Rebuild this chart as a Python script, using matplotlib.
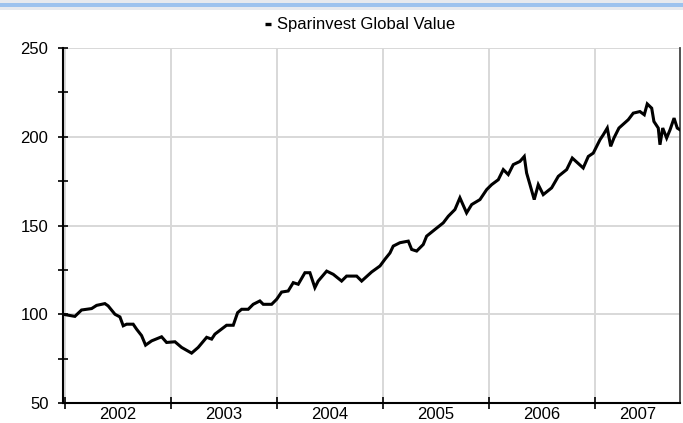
import matplotlib
matplotlib.use("Agg")
import matplotlib.pyplot as plt
from matplotlib.patches import Rectangle
from matplotlib.lines import Line2D

# Data (decimal years, index values)
years = [2001.985, 2002.097, 2002.160, 2002.255, 2002.302, 2002.380, 2002.411, 2002.475,
         2002.522, 2002.553, 2002.585, 2002.647, 2002.679, 2002.726, 2002.764, 2002.821,
         2002.915, 2002.962, 2003.041, 2003.104, 2003.198, 2003.260, 2003.340, 2003.387,
         2003.418, 2003.528, 2003.591, 2003.632, 2003.670, 2003.732, 2003.779, 2003.842,
         2003.874, 2003.953, 2004.000, 2004.047, 2004.109, 2004.157, 2004.204, 2004.267,
         2004.314, 2004.361, 2004.392, 2004.472, 2004.534, 2004.613, 2004.660, 2004.755,
         2004.802, 2004.896, 2004.975, 2005.022, 2005.069, 2005.100, 2005.163, 2005.242,
         2005.274, 2005.321, 2005.383, 2005.415, 2005.494, 2005.572, 2005.619, 2005.682,
         2005.729, 2005.792, 2005.840, 2005.918, 2005.981, 2006.028, 2006.091, 2006.138,
         2006.185, 2006.232, 2006.295, 2006.336, 2006.358, 2006.390, 2006.430, 2006.468,
         2006.515, 2006.594, 2006.657, 2006.736, 2006.789, 2006.892, 2006.940, 2006.987,
         2007.050, 2007.081, 2007.119, 2007.151, 2007.182, 2007.229, 2007.317, 2007.364,
         2007.427, 2007.468, 2007.496, 2007.538, 2007.559, 2007.600, 2007.616, 2007.642,
         2007.679, 2007.711, 2007.749, 2007.779, 2007.805]
values = [100.0, 98.8, 102.4, 103.2, 105.0, 106.0, 104.7, 100.0,
          98.5, 93.5, 94.4, 94.4, 91.6, 88.0, 82.6, 85.0,
          87.3, 84.1, 84.5, 81.3, 78.1, 81.3, 87.0, 86.0,
          88.8, 93.8, 93.8, 100.9, 102.8, 102.8, 105.6, 107.5,
          105.6, 105.6, 108.4, 112.5, 113.1, 117.8, 116.9, 123.4,
          123.4, 115.0, 118.7, 124.3, 122.5, 118.7, 121.5, 121.5,
          118.7, 123.8, 127.2, 131.0, 134.5, 138.4, 140.3, 141.2,
          136.5, 135.6, 139.3, 144.0, 147.8, 151.5, 155.2, 159.0,
          165.6, 157.1, 161.8, 164.6, 170.2, 173.0, 175.8, 181.5,
          178.7, 184.3, 186.1, 188.9, 179.6, 173.0, 164.6, 173.0,
          167.4, 171.2, 177.7, 181.5, 188.0, 182.4, 188.9, 190.8,
          198.3, 201.1, 204.9, 194.6, 199.3, 204.9, 209.6, 213.3,
          214.2, 212.4, 218.5, 216.1, 208.6, 204.9, 195.5, 204.9,
          199.3, 203.9, 210.5, 204.9, 203.9]
series_name = "Sparinvest Global Value"
year_ticks = [2002, 2003, 2004, 2005, 2006, 2007]
year_labels = ["2002", "2003", "2004", "2005", "2006", "2007"]

plt.rcParams['font.family'] = ['Liberation Sans', 'DejaVu Sans']

W, H = 683, 423
fig = plt.figure(figsize=(W / 100, H / 100), dpi=100)
fig.patch.set_facecolor('white')

# top decorative band
fig.add_artist(Rectangle((0, 1 - 10 / H), 1, 10 / H, transform=fig.transFigure,
                         facecolor='#e6e9ee', edgecolor='none'))
fig.add_artist(Rectangle((0, 1 - 7.5 / H), 1, 4 / H, transform=fig.transFigure,
                         facecolor='#9cc2ee', edgecolor='none'))

left, right, top, bottom = 63, 680, 48, 403
ax = fig.add_axes([left / W, 1 - bottom / H, (right - left) / W, (bottom - top) / H])

xmin, xmax = years[0], years[-1]
ax.set_xlim(xmin, xmax)
ax.set_ylim(50, 250)

ax.plot(years, values, color='black', lw=2.2, solid_joinstyle='miter', zorder=3)

# grid
for yv in [100, 150, 200, 250]:
    ax.axhline(yv, color='#d8d8d8', lw=1.4, zorder=1)
for xv in year_ticks:
    ax.axvline(xv, color='#d8d8d8', lw=1.4, zorder=1)

# spines
ax.spines['top'].set_visible(False)
ax.spines['left'].set_linewidth(1.5)
ax.spines['bottom'].set_linewidth(1.5)
ax.spines['right'].set_color('#444444')
ax.spines['right'].set_linewidth(1.3)

# y ticks
ax.set_yticks([50, 100, 150, 200, 250])
ax.set_yticks([75, 125, 175, 225], minor=True)
ax.tick_params(axis='y', which='both', direction='inout', length=7, width=1.2,
               labelsize=12, pad=7, colors='black')

# x ticks: major at year boundaries, labels centered in each interval
ax.set_xticks(year_ticks)
ax.set_xticklabels([''] * len(year_ticks))
centers = []
for i, y0 in enumerate(year_ticks):
    a = max(y0, xmin)
    b = min(y0 + 1, xmax)
    centers.append((a + b) / 2)
ax.set_xticks(centers, minor=True)
ax.set_xticklabels(year_labels, minor=True)
ax.tick_params(axis='x', which='major', direction='inout', length=8, width=1.2)
ax.tick_params(axis='x', which='minor', length=0, labelsize=12, pad=3)

# legend at top
handle = Line2D([], [], color='black', lw=2.4, solid_capstyle='butt')
leg = fig.legend([handle], [series_name], loc='center', bbox_to_anchor=(360 / W, 1 - 25 / H),
                 frameon=False, fontsize=12, handlelength=0.35, handletextpad=0.4)

fig.savefig('out.png', dpi=100)
